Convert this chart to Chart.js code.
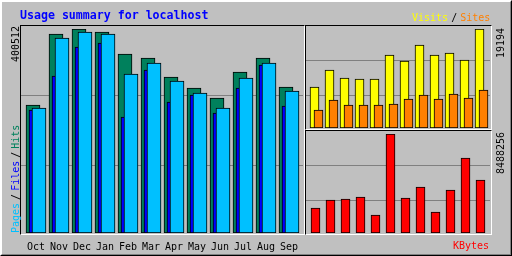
<!DOCTYPE html>
<html>
<head>
<meta charset="utf-8">
<script src="https://cdn.jsdelivr.net/npm/chart.js@4.4.1/dist/chart.umd.min.js"></script>
<style>
    html, body { margin: 0; padding: 0; background: #c0c0c0; }
    #graph { position: relative; width: 512px; height: 256px; background: #c0c0c0; overflow: hidden; font-family: 'DejaVu Sans Mono', monospace; }
    .box { position: absolute; box-sizing: border-box; border-style: solid; border-width: 1px; border-color: #000 #fff #fff #000; }
    .outer { left: 0; top: 0; width: 512px; height: 256px; border-color: #fff #000 #000 #fff; }
    .inner { left: 1px; top: 1px; width: 510px; height: 254px; border-color: #fff #808080 #808080 #fff; }
    canvas { position: absolute; left: 0; top: 0; }
    .txt { position: absolute; white-space: nowrap; font-size: 10px; line-height: 10px; }
    .up { transform-origin: 0 0; transform: rotate(-90deg); }
    .sep { margin: 0 3px; color: #000; }
    #title { left: 20px; top: 9px; font-size: 11.6px; line-height: 12px; font-weight: bold; color: #0000ff; }
</style>
</head>
<body>
<div id="graph">
    <div class="box outer"></div>
    <div class="box inner"></div>
    <div class="box" style="left:20px;top:25px;width:285px;height:210px"></div>
    <div class="box" style="left:305px;top:25px;width:187px;height:105px"></div>
    <div class="box" style="left:305px;top:130px;width:187px;height:105px"></div>

    <canvas id="usageChart" width="512" height="256"></canvas>
    <canvas id="visitChart" width="512" height="256"></canvas>
    <canvas id="kbyteChart" width="512" height="256"></canvas>

    <div id="title" class="txt">Usage summary for localhost</div>
    <div class="txt" style="left:412px;top:12.5px"><span style="color:#ffff00">Visits</span><span class="sep">/</span><span style="color:#ff8000">Sites</span></div>
    <div class="txt" style="left:453px;top:240.5px;color:#ff0000">KBytes</div>

    <div class="txt up" style="left:11px;top:233px"><span style="color:#00c0ff">Pages</span><span class="sep">/</span><span style="color:#0000ff">Files</span><span class="sep">/</span><span style="color:#00805c">Hits</span></div>
    <div id="hitsMax" class="txt up" style="left:11px;top:62px"></div>
    <div id="visitsMax" class="txt up" style="left:496px;top:58px"></div>
    <div id="kbytesMax" class="txt up" style="left:496px;top:174px"></div>
</div>

<script>
const months = ['Oct', 'Nov', 'Dec', 'Jan', 'Feb', 'Mar', 'Apr', 'May', 'Jun', 'Jul', 'Aug', 'Sep'];
const hits = [251300, 390700, 400512, 394620, 351430, 343580, 306280, 284680, 265050, 316090, 343580, 286640];
const files = [241490, 308240, 365170, 373030, 227740, 320020, 257190, 270940, 235600, 284680, 329840, 249340];
const pages = [245410, 382840, 394620, 390700, 312160, 333760, 298420, 274860, 245410, 304310, 333760, 278790];
const visits = [7949, 11245, 9694, 9500, 9500, 14153, 12990, 16092, 14153, 14541, 13184, 19194];
const sites = [3490, 5429, 4459, 4459, 4459, 4653, 5623, 6398, 5623, 6592, 5816, 7368];
const kbytes = [2143500, 2829400, 2915200, 3086600, 1543300, 8488256, 3000900, 3944000, 1800500, 3686800, 6430500, 4544200];

const FONT = 'DejaVu Sans Mono';

// panel plot areas, in page pixels
const usageArea = { left: 21, right: 303, top: 29, bottom: 233 };
const visitArea = { left: 306, right: 490, top: 29, bottom: 128 };
const kbyteArea = { left: 306, right: 490, top: 134, bottom: 233 };

// linear x axis where index 0 sits on firstCenter and each month is one slot wide
function slotAxis(area, firstCenter, slot, extra) {
    const min = -(firstCenter - area.left) / slot;
    return Object.assign({
        type: 'linear',
        display: false,
        offset: false,
        min: min,
        max: min + (area.right - area.left) / slot
    }, extra || {});
}

function gridAxis(max, fractions) {
    return {
        min: 0,
        max: max,
        border: { display: false },
        grid: { color: '#808080', lineWidth: 1, drawTicks: false },
        ticks: { display: false },
        afterBuildTicks: axis => { axis.ticks = fractions.map(f => ({ value: f * max })); }
    };
}

function barSet(values, color, width, axisId, order) {
    return {
        data: values.map((v, i) => ({ x: i, y: v })),
        backgroundColor: color,
        borderColor: '#000000',
        borderWidth: 1,
        borderSkipped: false,
        barThickness: width,
        maxBarThickness: width,
        grouped: false,
        xAxisID: axisId,
        order: order
    };
}

function makeChart(id, area, bottomPad, datasets, scales) {
    return new Chart(document.getElementById(id), {
        type: 'bar',
        data: { datasets: datasets },
        options: {
            responsive: false,
            animation: false,
            devicePixelRatio: 1,
            layout: {
                autoPadding: false,
                padding: { left: area.left, top: area.top, right: 512 - area.right, bottom: bottomPad }
            },
            plugins: { legend: { display: false }, tooltip: { enabled: false } },
            scales: scales
        }
    });
}

const hitsMax = Math.max(...hits);
const visitsMax = Math.max(...visits);
const kbytesMax = Math.max(...kbytes);

document.getElementById('hitsMax').textContent = hitsMax;
document.getElementById('visitsMax').textContent = visitsMax;
document.getElementById('kbytesMax').textContent = kbytesMax;

// hits at the back, files 3px right, pages 6px right and in front
makeChart('usageChart', usageArea, 0, [
    barSet(hits, '#00805c', 14, 'xHits', 3),
    barSet(files, '#0000ff', 14, 'xFiles', 2),
    barSet(pages, '#00c0ff', 14, 'xPages', 1)
], {
    xHits: slotAxis(usageArea, 33, 23),
    xFiles: slotAxis(usageArea, 36, 23, {
        display: true,
        position: 'bottom',
        grid: { display: false },
        border: { display: false },
        ticks: {
            autoSkip: false,
            maxRotation: 0,
            padding: 0,
            color: '#000000',
            font: { family: FONT, size: 10 },
            callback: v => months[v]
        },
        afterBuildTicks: axis => { axis.ticks = months.map((m, i) => ({ value: i })); },
        afterFit: axis => { axis.height = 256 - usageArea.bottom; }
    }),
    xPages: slotAxis(usageArea, 39, 23),
    y: gridAxis(hitsMax, [0.33, 0.674])
});

makeChart('visitChart', visitArea, 256 - visitArea.bottom, [
    barSet(visits, '#ffff00', 9, 'xVisits', 2),
    barSet(sites, '#ff8000', 9, 'xSites', 1)
], {
    xVisits: slotAxis(visitArea, 314.5, 15),
    xSites: slotAxis(visitArea, 318.5, 15),
    y: gridAxis(visitsMax, [0.33, 0.68])
});

makeChart('kbyteChart', kbyteArea, 256 - kbyteArea.bottom, [
    barSet(kbytes, '#ff0000', 9, 'xKbytes', 1)
], {
    xKbytes: slotAxis(kbyteArea, 315.5, 15),
    y: gridAxis(kbytesMax, [0.33, 0.68])
});
</script>
</body>
</html>
